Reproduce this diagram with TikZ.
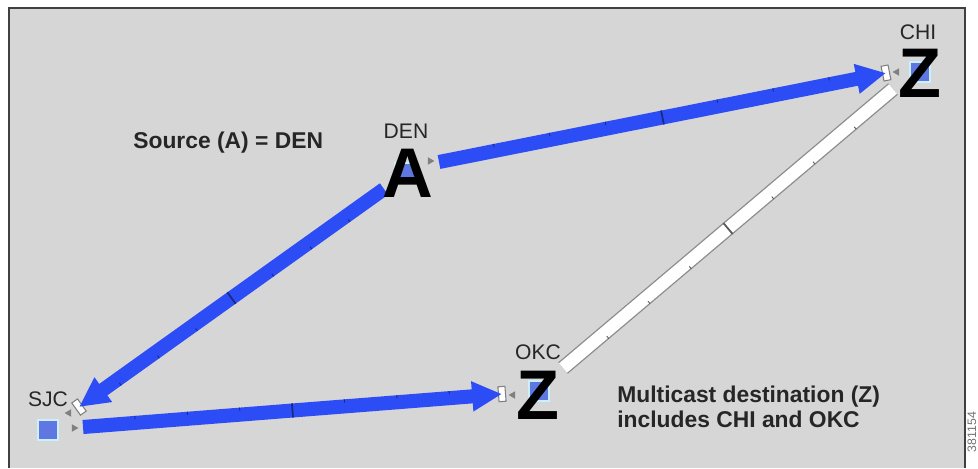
\documentclass[tikz,border=0pt]{standalone}
\usepackage{fontspec}
\setmainfont{Liberation Sans}
\usetikzlibrary{arrows.meta,decorations.markings,shapes.geometric}

\definecolor{linkblue}{RGB}{44,76,245}
\definecolor{nodeblue}{RGB}{95,120,225}
\definecolor{panelgray}{RGB}{214,214,214}

\tikzset{
  router/.style={rectangle, fill=nodeblue, draw=cyan!20, line width=1.2pt, minimum size=11pt, inner sep=0pt},
  endpoint/.style={font=\fontsize{40}{40}\selectfont\bfseries, inner sep=0pt, text=black},
  sitelabel/.style={font=\fontsize{12}{12}\selectfont, text=black!85, inner sep=0pt},
  note/.style={font=\fontsize{13}{14.2}\selectfont\bfseries, text=black!85, align=left, inner sep=0pt},
  port/.style={regular polygon, regular polygon sides=3, fill=black!50, inner sep=0pt, minimum size=5pt, rotate=#1},
  tipbox/.style={rectangle, draw=black!50, fill=white, line width=0.6pt, minimum width=4pt, minimum height=8.5pt, inner sep=0pt},
  ticks/.style={postaction={decorate, decoration={markings,
      mark=between positions 0.125 and 0.876 step 0.125 with {\draw[-, #1, line width=0.5pt] (0,2.2pt) -- (0,4pt);},
      mark=at position 0.5 with {\draw[-, #1, line width=1pt] (0,-4pt) -- (0,4pt);}}}},
  flow/.style={draw=linkblue, line width=8pt, -{Triangle[length=17pt,width=16pt]}, ticks=linkblue!55!black},
  idle/.style={draw=white, line width=7pt, ticks=black!65}
}

\begin{document}
\begin{tikzpicture}[x=0.02cm, y=-0.02cm]

  \useasboundingbox (0,0) rectangle (978,468);

  % panel
  \fill[panelgray] (9,8) rectangle (965,468);
  \draw[black!75, line width=1.2pt] (9,468) -- (9,8) -- (965,8) -- (965,468);

  % link end points
  \coordinate (den-sjc) at (384,189);
  \coordinate (sjc-in) at (79,407);
  \coordinate (sjc-okc) at (83,427);
  \coordinate (okc-in) at (502,394);
  \coordinate (den-chi) at (439,162);
  \coordinate (chi-in) at (886,73);
  \coordinate (chi-okc) at (893,89);
  \coordinate (okc-chi) at (563,368);

  % boxes at the arrow ends
  \path (den-sjc) -- (sjc-in) node[pos=1, sloped, tipbox] (sjc-box) {};
  \path (sjc-okc) -- (okc-in) node[pos=1, sloped, tipbox] (okc-box) {};
  \path (den-chi) -- (chi-in) node[pos=1, sloped, tipbox] (chi-box) {};

  % links
  \draw[flow] (den-sjc) -- (sjc-in);
  \draw[flow] (sjc-okc) -- (okc-in);
  \draw[flow] (den-chi) -- (chi-in);
  \draw[black!45, line width=8.5pt] (chi-okc) -- (okc-chi);
  \draw[idle] (chi-okc) -- (okc-chi);

  % routers
  \node[router] (den) at (405,173) {};
  \node[router] (chi) at (920,72) {};
  \node[router] (okc) at (539,391) {};
  \node[router] (sjc) at (48,430) {};

  % source and destinations
  \node[endpoint] (den-mark) at (408,173) {A};
  \node[endpoint] (chi-mark) at (920,73) {Z};
  \node[endpoint] (okc-mark) at (538,395) {Z};

  % site names
  \node[sitelabel] (den-name) at (406,131) {DEN};
  \node[sitelabel] (chi-name) at (918,32) {CHI};
  \node[sitelabel] (okc-name) at (538,352) {OKC};
  \node[sitelabel] (sjc-name) at (48,399) {SJC};

  % interface markers
  \node[port=-90] (den-port) at (430,161) {};
  \node[port=90] (chi-port) at (897,72) {};
  \node[port=90] (okc-port) at (513,395) {};
  \node[port=90] (sjc-port1) at (69,413) {};
  \node[port=-90] (sjc-port2) at (74,428) {};

  % notes
  \node[note, anchor=base west] (src-note) at (133,148) {Source (A) = DEN};
  \node[note, anchor=north west] (dst-note) at (617,386) {Multicast destination (Z)\\includes CHI and OKC};

  \node[rotate=90, font=\fontsize{7}{7}\selectfont, text=black!55, inner sep=0pt] (fig-id) at (972,432) {381154};

\end{tikzpicture}
\end{document}
